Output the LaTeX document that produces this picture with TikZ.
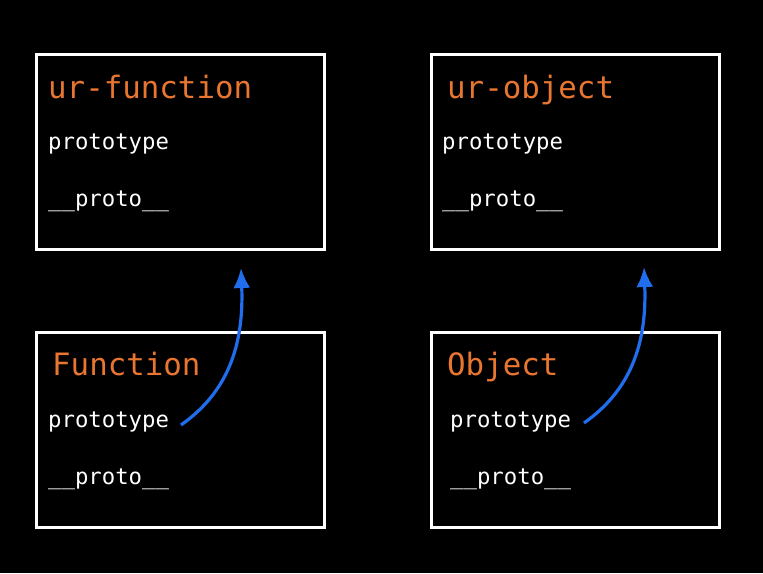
\documentclass[tikz,border=0pt]{standalone}
\usepackage{fontspec}
\setmonofont{DejaVu Sans Mono}
\usetikzlibrary{arrows.meta}
\definecolor{ttl}{RGB}{232,118,48}
\definecolor{arrblue}{RGB}{32,110,238}
\tikzset{
  box/.style={draw=white, line width=3pt, minimum width=288pt, minimum height=195pt, inner sep=0pt},
  title/.style={anchor=base west, inner sep=0pt, text=ttl, font=\ttfamily\fontsize{30.8}{31}\selectfont},
  field/.style={anchor=base west, inner sep=0pt, text=white, font=\ttfamily\fontsize{22.3}{23}\selectfont},
  arr/.style={draw=arrblue, line width=3.2pt, -{Latex[length=20pt,width=17pt]}}
}
\begin{document}
\begin{tikzpicture}[x=1pt,y=-1pt]
\fill[black] (0,0) rectangle (763,573);
\useasboundingbox (0,0) rectangle (763,573);
% boxes
\node[box] (bUF) at (180.5,152) {};
\node[box] (bUO) at (575.5,152) {};
\node[box] (bF) at (180.5,430) {};
\node[box] (bO) at (575.5,430) {};
% texts
\node[title] (tUF) at (48,98) {ur-function};
\node[field] (pUF) at (48,149) {prototype};
\node[field] (qUF) at (48,206) {\_\_proto\_\_};
\node[title] (tUO) at (447,98) {ur-object};
\node[field] (pUO) at (442,149) {prototype};
\node[field] (qUO) at (442,206) {\_\_proto\_\_};
\node[title] (tF) at (52,375) {Function};
\node[field] (pF) at (48,427) {prototype};
\node[field] (qF) at (48,484) {\_\_proto\_\_};
\node[title] (tO) at (447,375) {Object};
\node[field] (pO) at (450,427) {prototype};
\node[field] (qO) at (450,484) {\_\_proto\_\_};
% arrows
\coordinate (a1s) at (181,425);
\coordinate (a1e) at (241,268);
\coordinate (a2s) at (584,423);
\coordinate (a2e) at (644,267);
\draw[arr] (a1s) .. controls (228,392) and (244,345) .. (a1e);
\draw[arr] (a2s) .. controls (631,390) and (647,343) .. (a2e);
\end{tikzpicture}
\end{document}
